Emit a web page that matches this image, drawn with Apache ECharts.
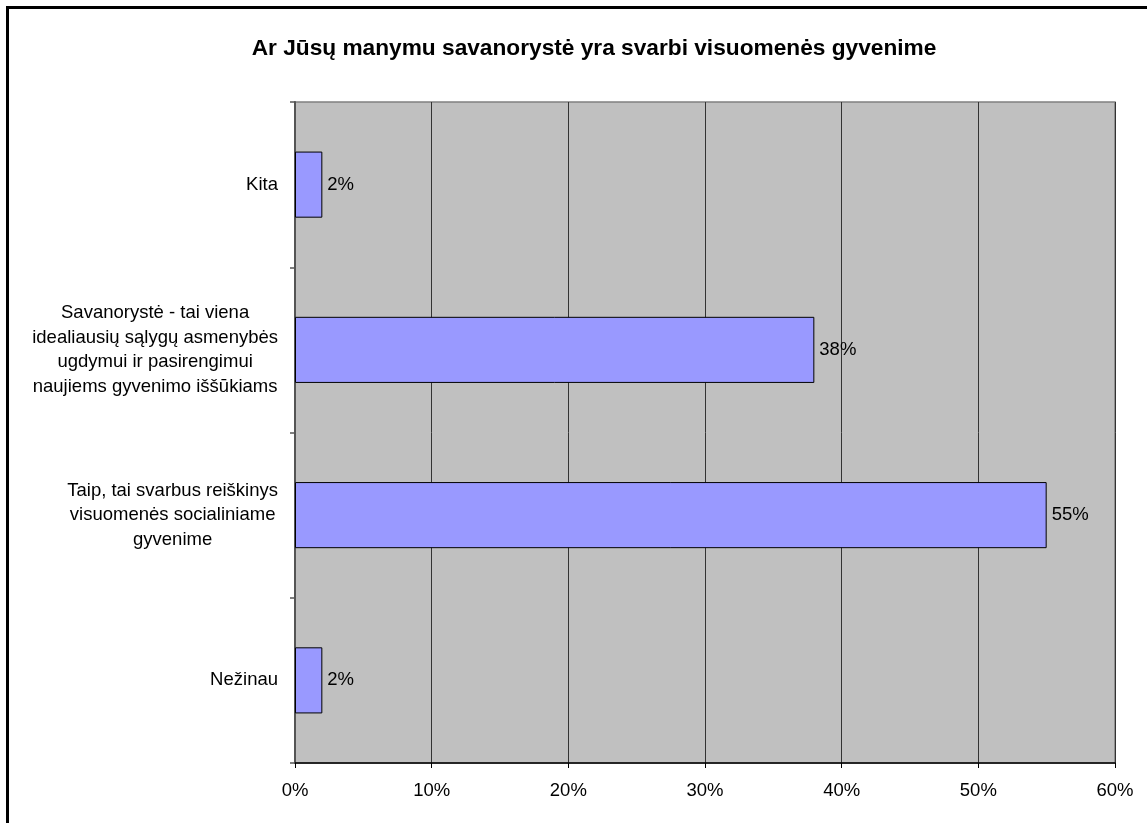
<!DOCTYPE html>
<html>
<head>
<meta charset="utf-8">
<script src="https://cdn.jsdelivr.net/npm/echarts@6/dist/echarts.min.js"></script>
<style>
  html, body { margin: 0; padding: 0; background: #fff; }
  #chart { width: 1147px; height: 823px; }
</style>
</head>
<body>
<div id="chart"></div>
<script>
// Answer categories, listed bottom to top along the vertical axis
const categories = [
  'Nežinau',
  'Taip, tai svarbus reiškinys\nvisuomenės socialiniame\ngyvenime',
  'Savanorystė - tai viena\nidealiausių sąlygų asmenybės\nugdymui ir pasirengimui\nnaujiems gyvenimo iššūkiams',
  'Kita'
];
// Share of respondents, percent
const shares = [2, 55, 38, 2];
// Value axis ticks, percent
const tickMin = 0;
const tickMax = 60;
const tickStep = 10;

const titleText = 'Ar Jūsų manymu savanorystė yra svarbi visuomenės gyvenime';
const font = '"Liberation Sans", Arial, sans-serif';

const chart = echarts.init(document.getElementById('chart'), null, { renderer: 'canvas' });

chart.setOption({
  backgroundColor: '#ffffff',
  animation: false,
  title: {
    text: titleText,
    left: 589,
    top: 32,
    textAlign: 'center',
    textStyle: { fontFamily: font, fontSize: 22.7, fontWeight: 'bold', color: '#000' }
  },
  graphic: [{
    type: 'rect',
    shape: { x: 7.5, y: 7.5, width: 1200, height: 900 },
    style: { fill: 'none', stroke: '#000', lineWidth: 3 },
    z: 100
  }],
  grid: {
    left: 295, right: 32, top: 102, bottom: 60,
    show: true,
    backgroundColor: '#C0C0C0',
    borderColor: '#808080',
    borderWidth: 1.5
  },
  xAxis: {
    type: 'value',
    min: tickMin, max: tickMax, interval: tickStep,
    axisLine: { show: true, lineStyle: { color: '#000', width: 1.5 } },
    axisTick: { show: true, length: 5, lineStyle: { color: '#000' } },
    axisLabel: {
      margin: 18,
      formatter: '{value}%',
      fontFamily: font, fontSize: 18.5, color: '#000'
    },
    splitLine: { show: true, lineStyle: { color: '#333', width: 1 } }
  },
  yAxis: {
    type: 'category',
    data: categories,
    axisLine: { show: true, lineStyle: { color: '#555', width: 2 } },
    axisTick: { show: true, length: 5, lineStyle: { color: '#555', width: 1.5 } },
    axisLabel: {
      margin: 17,
      align: 'right',
      fontFamily: font, fontSize: 18.5, color: '#000',
      formatter: (v) => v.split('\n').map(l => '{c|' + l + '}').join('\n'),
      rich: {
        c: { align: 'center', fontFamily: font, fontSize: 18.5, lineHeight: 24.5, color: '#000' }
      }
    }
  },
  series: [{
    type: 'bar',
    data: shares,
    barCategoryGap: '60%',
    itemStyle: { color: '#9999FF', borderColor: '#000', borderWidth: 1 },
    label: {
      show: true,
      position: 'right',
      distance: 5,
      formatter: '{c}%',
      fontFamily: font, fontSize: 18.5, color: '#000'
    }
  }]
});
</script>
</body>
</html>
